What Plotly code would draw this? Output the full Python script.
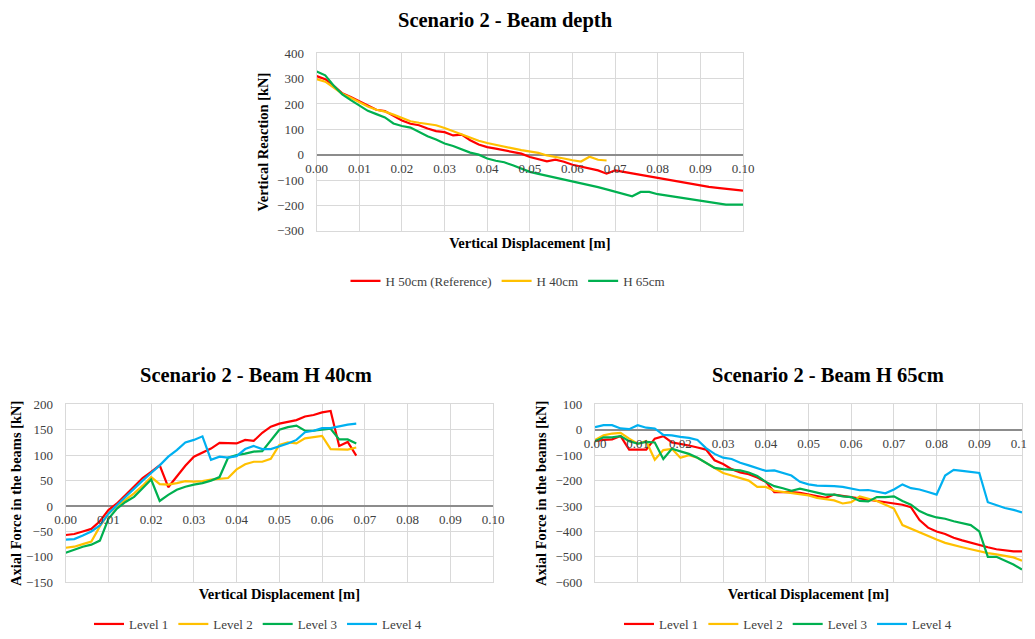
import plotly.graph_objects as go

# ---------------- data ----------------
disp = [0.000, 0.002, 0.004, 0.006, 0.008, 0.010, 0.012, 0.014, 0.016, 0.018,
        0.020, 0.022, 0.024, 0.026, 0.028, 0.030, 0.032, 0.034, 0.036, 0.038,
        0.040, 0.042, 0.044, 0.046, 0.048, 0.050, 0.052, 0.054, 0.056, 0.058,
        0.060, 0.062, 0.064, 0.066, 0.068, 0.070, 0.072, 0.074, 0.076, 0.078,
        0.080, 0.082, 0.084, 0.086, 0.088, 0.090, 0.092, 0.094, 0.096, 0.098,
        0.100]

# Top chart: vertical reaction [kN]
h50 = [310, 298, 272, 242, 228, 210, 192, 177, 172, 155, 135, 122, 116, 103, 93, 89, 76, 79, 57, 40,
       30, 24, 17, 10, 4, -9, -16, -26, -20, -28, -40, -48, -55, -62, -75, -62, -68, -74, -80, -86,
       -93, -99, -105, -111, -117, -122, -127, -131, -134, -137, -142]
h40 = [298, 288, 265, 240, 225, 207, 190, 177, 170, 158, 145, 132, 126, 120, 116, 105, 92, 80, 67, 55,
       46, 38, 32, 25, 18, 12, 7, -3, -8, -15, -22, -27, -8, -20, -23]
h65 = [328, 313, 272, 238, 215, 195, 173, 160, 147, 123, 113, 107, 90, 73, 60, 44, 34, 20, 8, 0,
       -15, -24, -30, -42, -55, -68, -76, -83, -92, -98, -105, -113, -120, -128, -137, -146, -154, -164, -147, -147,
       -156, -161, -166, -171, -176, -182, -187, -193, -197, -197, -197]

# Bottom-left: Beam H 40cm, axial force [kN]
b40_l1 = [-57, -55, -50, -45, -30, -8, 5, 22, 40, 55, 67, 80, 37, 58, 79, 97, 105, 113, 124, 123,
          123, 130, 128, 144, 156, 162, 166, 169, 176, 179, 184, 187, 118, 126, 99]
b40_l2 = [-82, -80, -75, -70, -40, -15, 0, 12, 25, 40, 57, 43, 42, 45, 49, 48, 49, 52, 54, 55,
          72, 82, 87, 87, 93, 120, 125, 123, 133, 136, 138, 112, 111, 111, 115]
b40_l3 = [-92, -86, -80, -76, -68, -25, -5, 8, 18, 35, 52, 10, 22, 32, 38, 42, 45, 50, 57, 95,
          100, 103, 107, 108, 128, 150, 155, 158, 148, 148, 150, 152, 131, 131, 123]
b40_l4 = [-66, -65, -58, -50, -38, -15, 2, 18, 35, 50, 65, 80, 97, 110, 125, 130, 137, 91, 97, 95,
          98, 112, 118, 112, 112, 117, 123, 130, 145, 148, 153, 153, 157, 160, 162]

# Bottom-right: Beam H 65cm, axial force [kN]
b65_l1 = [-45, -40, -38, -25, -78, -78, -78, -35, -25, -50, -55, -62, -70, -78, -120, -135, -155, -168, -175, -188,
          -205, -245, -245, -245, -248, -255, -262, -268, -255, -260, -265, -270, -275, -280, -285, -290, -295, -305, -355, -385,
          -400, -410, -425, -435, -445, -455, -462, -470, -475, -478, -478]
b65_l2 = [-40, -22, -15, -12, -35, -55, -45, -118, -80, -75, -110, -100, -110, -130, -150, -170, -180, -190, -200, -225,
          -225, -240, -245, -250, -255, -258, -268, -272, -278, -290, -285, -262, -270, -280, -295, -310, -375, -390, -405, -420,
          -432, -445, -455, -462, -470, -478, -485, -490, -495, -502, -515]
b65_l3 = [-45, -30, -30, -25, -45, -55, -48, -50, -115, -75, -85, -95, -110, -130, -150, -155, -158, -160, -168, -182,
          -205, -222, -230, -240, -232, -240, -245, -255, -255, -262, -265, -280, -282, -265, -265, -262, -280, -295, -320, -335,
          -345, -350, -360, -368, -375, -400, -500, -500, -515, -530, -550]
b65_l4 = [10, 18, 18, 5, 2, 18, 8, 5, -20, -22, -28, -32, -40, -72, -95, -110, -115, -130, -140, -150,
          -162, -160, -170, -180, -205, -215, -220, -220, -222, -225, -232, -238, -237, -245, -250, -235, -215, -230, -235, -245,
          -255, -180, -158, -162, -167, -170, -285, -298, -308, -315, -325]

top_names = ["H 50cm (Reference)", "H 40cm", "H 65cm"]
level_names = ["Level 1", "Level 2", "Level 3", "Level 4"]
x_ticks = [0.00, 0.01, 0.02, 0.03, 0.04, 0.05, 0.06, 0.07, 0.08, 0.09, 0.10]

# ---------------- style ----------------
RED, YEL, GRN, BLU = "#FF0000", "#FFC000", "#00B050", "#00B0F0"
FONT = "Liberation Serif, Times New Roman, serif"
GRID = "#D9D9D9"
ZERO = "#8C8C8C"
TICKC = "#404040"
LW = 2.2

OFF = 8                      # page body margin
W, H = 1035 - OFF, 639 - OFF  # figure size so it ends at the window edge
def fx(px):
    return (px - OFF) / W
def fy(py):
    return 1 - (py - OFF) / H

fig = go.Figure()

def add(x, y, name, color, xa, ya, legend):
    n = len(y)
    fig.add_trace(go.Scatter(x=x[:n], y=y, name=name, mode="lines",
                             line=dict(color=color, width=LW),
                             xaxis=xa, yaxis=ya, legend=legend))

# empty traces to activate tick-label axes at the zero line
for xa, ya in [("x4", "y"), ("x5", "y2"), ("x6", "y3")]:
    fig.add_trace(go.Scatter(x=[], y=[], xaxis=xa, yaxis=ya, showlegend=False, hoverinfo="skip"))

# top
for ys, nm, c in zip([h50, h40, h65], top_names, [RED, YEL, GRN]):
    add(disp, ys, nm, c, "x", "y", "legend")
# bottom left
for ys, nm, c in zip([b40_l1, b40_l2, b40_l3, b40_l4], level_names, [RED, YEL, GRN, BLU]):
    add(disp, ys, nm, c, "x2", "y2", "legend2")
# bottom right
for ys, nm, c in zip([b65_l1, b65_l2, b65_l3, b65_l4], level_names, [RED, YEL, GRN, BLU]):
    add(disp, ys, nm, c, "x3", "y3", "legend3")

panels = [
    # (xdomain px, ydomain px, yrange, dtick, ytitle)
    ((316.7, 743.0), (53.3, 230.7), (-300, 400), 100, "Vertical Reaction [kN]"),
    ((65.7, 493.0), (404.3, 582.3), (-150, 200), 50, "Axial Force in the beams [kN]"),
    ((595.0, 1022.0), (404.3, 582.3), (-600, 100), 100, "Axial Force in the beams [kN]"),
]

layout = dict(
    width=W, height=H,
    margin=dict(l=0, r=0, t=0, b=0),
    paper_bgcolor="white", plot_bgcolor="white",
    font=dict(family=FONT, color=TICKC, size=12),
    showlegend=True,
)

for i, ((x0, x1), (y0, y1), (ylo, yhi), dt, ytitle) in enumerate(panels):
    sfx = "" if i == 0 else str(i + 1)
    xd = [fx(x0), fx(x1)]
    yd = [fy(y1), fy(y0)]
    layout["xaxis" + sfx] = dict(
        domain=xd, anchor="y" + sfx, range=[0, 0.1], dtick=0.01, tick0=0,
        automargin=False,
        showgrid=True, gridcolor=GRID, gridwidth=1.3,
        showline=True, linecolor=GRID, linewidth=1.3, mirror=True,
        zeroline=False, showticklabels=False, ticks="",
        title=dict(text="<b>Vertical Displacement [m]</b>", standoff=6,
                   font=dict(family=FONT, size=14.5, color="#000000")),
    )
    layout["yaxis" + sfx] = dict(
        domain=yd, anchor="x" + sfx, range=[ylo, yhi], dtick=dt, tick0=0,
        automargin=False,
        showgrid=True, gridcolor=GRID, gridwidth=1.3,
        showline=True, linecolor=GRID, linewidth=1.3, mirror=True,
        zeroline=True, zerolinecolor=ZERO, zerolinewidth=1.5,
        ticks="", ticklabelstandoff=9,
        tickfont=dict(family=FONT, size=13, color=TICKC),
        title=dict(text="<b>" + ytitle + "</b>", standoff=5,
                   font=dict(family=FONT, size=14.5, color="#000000")),
    )
    zero_frac = yd[0] + (0 - ylo) / (yhi - ylo) * (yd[1] - yd[0])
    layout["xaxis" + str(i + 4)] = dict(
        domain=xd, overlaying="x" + sfx, anchor="free", position=zero_frac,
        automargin=False,
        range=[0, 0.1], tickvals=x_ticks, tickformat=".2f",
        showgrid=False, showline=False, zeroline=False, ticks="",
        ticklabelstandoff=4,
        tickfont=dict(family=FONT, size=13, color=TICKC),
    )

fig.update_layout(**layout)

leg_common = dict(orientation="h", xanchor="center",
                  font=dict(family=FONT, size=13, color=TICKC),
                  bgcolor="rgba(0,0,0,0)", itemwidth=30, tracegroupgap=0)
fig.update_layout(
    legend=dict(x=fx(508), y=fy(281), yanchor="middle", **leg_common),
    legend2=dict(x=fx(258), y=0, yanchor="bottom", **leg_common),
    legend3=dict(x=fx(788), y=0, yanchor="bottom", **leg_common),
)

titles = [("Scenario 2 - Beam depth", 505, 21), ("Scenario 2 - Beam H 40cm", 256, 375),
          ("Scenario 2 - Beam H 65cm", 828, 375)]
for t, cx, cy in titles:
    fig.add_annotation(text="<b>" + t + "</b>", x=fx(cx), y=fy(cy), xref="paper", yref="paper",
                       xanchor="center", yanchor="middle", showarrow=False,
                       font=dict(family=FONT, size=20.5, color="#000000"))

fig.write_html("out.html")
